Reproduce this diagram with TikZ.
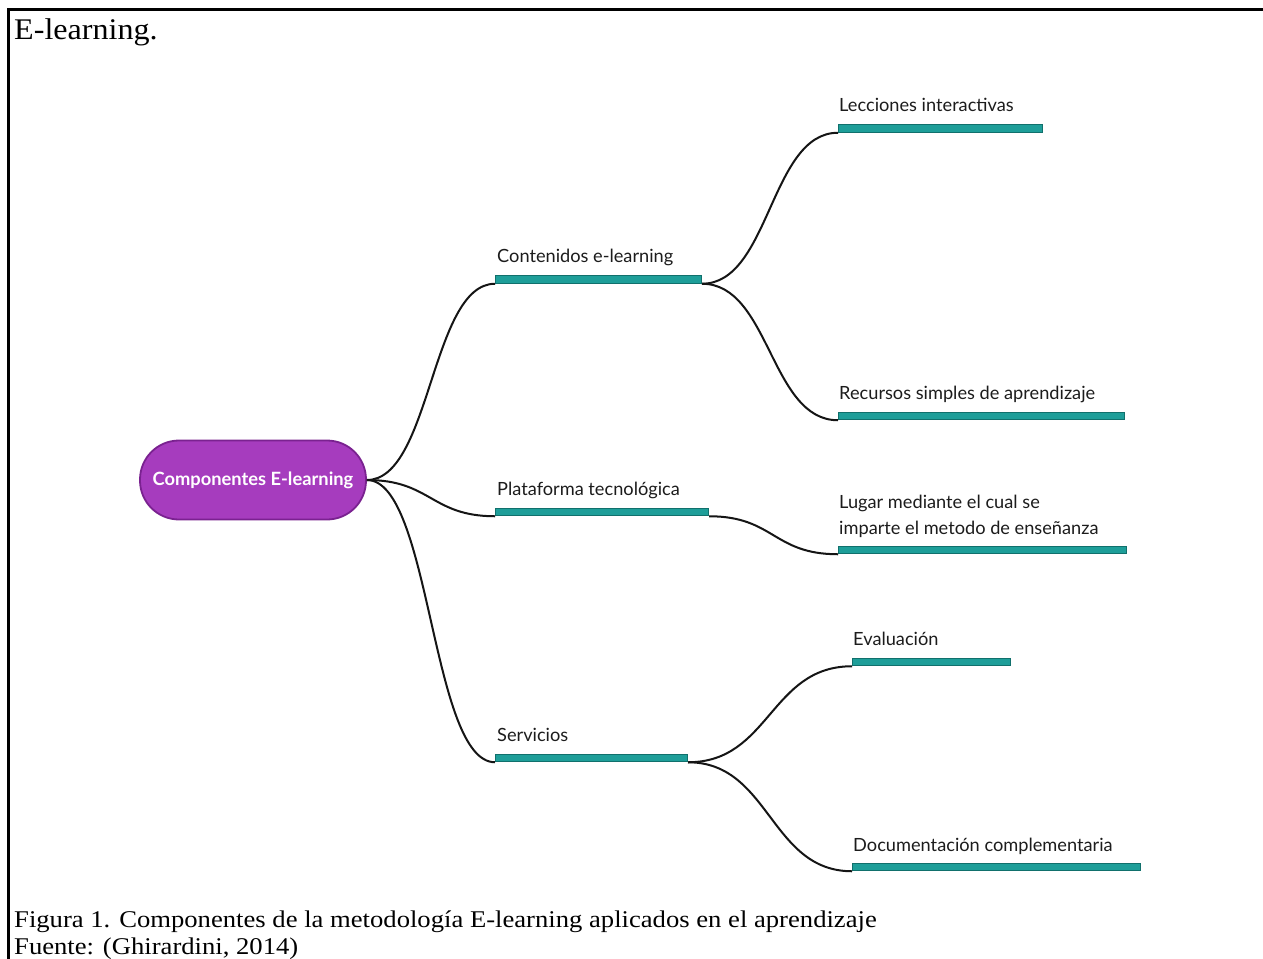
\documentclass[tikz,border=0pt]{standalone}
\usepackage{fontspec}
\setmainfont{Liberation Serif}
\newfontfamily\lato{Lato}
\definecolor{barfill}{HTML}{1E9E99}
\definecolor{barline}{HTML}{11706C}
\definecolor{hubfill}{HTML}{A63CBE}
\definecolor{hubline}{HTML}{7A2290}
\definecolor{linkc}{HTML}{151515}
\definecolor{lbltext}{HTML}{1C1C1C}
\begin{document}
\begin{tikzpicture}[x=1pt,y=-1pt,
  bar/.style={rectangle, draw=barline, fill=barfill, line width=1pt, minimum height=7.5pt, inner sep=0pt, anchor=west},
  lbl/.style={anchor=base west, inner sep=0pt, text=lbltext, font=\lato\fontsize{18.2}{22}\selectfont},
  hub/.style={rectangle, rounded corners=39pt, draw=hubline, line width=1.8pt, fill=hubfill, text=white, minimum width=226pt, minimum height=79pt, inner sep=0pt, font=\lato\bfseries\fontsize{18.3}{22}\selectfont},
  link/.style={draw=linkc, line width=2pt},
  serif/.style={anchor=base west, inner sep=0pt, text=black}
]
\useasboundingbox (0,0) rectangle (1263,958);
\fill[white] (0,0) rectangle (1263,958);
% frame
\draw[line width=2.6pt, line cap=rect] (8.5,960) -- (8.5,9.5) -- (1265,9.5);

% title and caption
\node[serif, font=\fontsize{30}{36}\selectfont] (title) at (14,40) {\scalebox{1.07}[1]{E-learning.}};
\node[serif, font=\fontsize{24}{28}\selectfont] (cap) at (14,927) {\scalebox{1.11}[1]{Figura 1. Componentes de la metodología E-learning aplicados en el aprendizaje}};
\node[serif, font=\fontsize{24}{28}\selectfont] (src) at (14,954) {\scalebox{1.11}[1]{Fuente: (Ghirardini, 2014)}};

% hub
\node[hub] (hub) at (253,480) {Componentes E-learning};

% bars
\node[bar, minimum width=206pt] (c1) at (495,279.5) {};
\node[bar, minimum width=213pt] (p1) at (495,512) {};
\node[bar, minimum width=192pt] (s1) at (495,758) {};
\node[bar, minimum width=204pt] (lec) at (838,128.5) {};
\node[bar, minimum width=286pt] (rec) at (838,416) {};
\node[bar, minimum width=288pt] (lug) at (838,550) {};
\node[bar, minimum width=158pt] (eva) at (852,662) {};
\node[bar, minimum width=288pt] (doc) at (852,867) {};

% labels
\node[lbl] (c1t) at (497,262) {Contenidos e-learning};
\node[lbl] (p1t) at (497,495) {Plataforma tecnológica};
\node[lbl] (s1t) at (497,741) {Servicios};
\node[lbl] (lect) at (839,111) {Lecciones interactivas};
\node[lbl] (rect) at (839,399) {Recursos simples de aprendizaje};
\node[lbl] (lugta) at (839,508) {Lugar mediante el cual se};
\node[lbl] (lugtb) at (839,534) {imparte el metodo de enseñanza};
\node[lbl] (evat) at (853,645) {Evaluación};
\node[lbl] (doct) at (853,851) {Documentación complementaria};

% connectors
\draw[link] (hub.east) .. controls +(64,0) and +(-64,0) .. (c1.south west);
\draw[link] (hub.east) .. controls +(64,0) and +(-64,0) .. (p1.south west);
\draw[link] (hub.east) .. controls +(64,0) and +(-64,0) .. (s1.south west);
\draw[link] (c1.south east) .. controls +(68,0) and +(-68,0) .. (lec.south west);
\draw[link] (c1.south east) .. controls +(68,0) and +(-68,0) .. (rec.south west);
\draw[link] (p1.south east) .. controls +(65,0) and +(-65,0) .. (lug.south west);
\draw[link] (s1.south east) .. controls +(82,0) and +(-82,0) .. (eva.south west);
\draw[link] (s1.south east) .. controls +(82,0) and +(-82,0) .. (doc.south west);
\end{tikzpicture}
\end{document}
